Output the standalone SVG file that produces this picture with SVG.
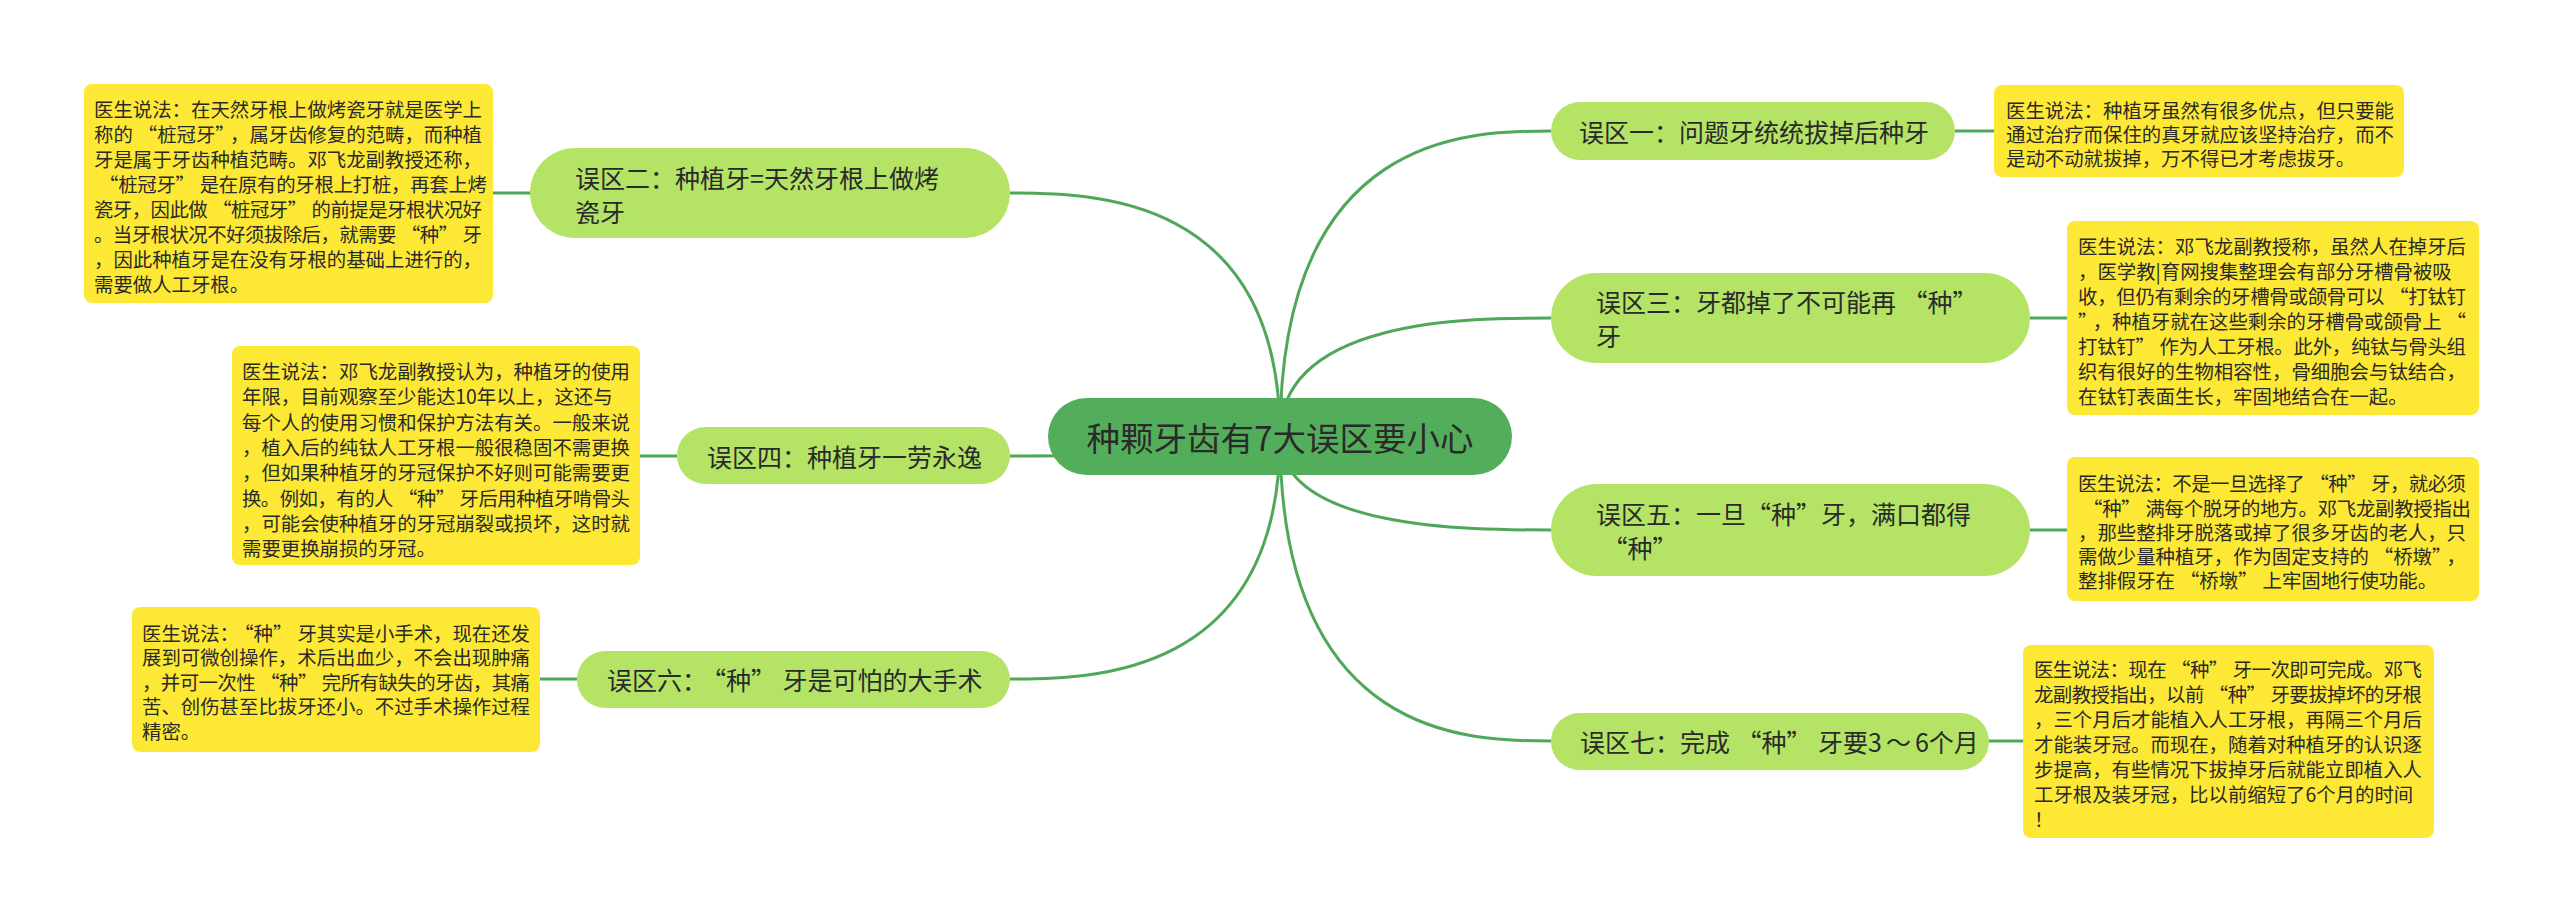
<svg xmlns="http://www.w3.org/2000/svg" width="2560" height="923" viewBox="0 0 2560 923">
<style>
.bg{fill:#ffffff}
.conn path,.conn line{fill:none;stroke:#4fa85a;stroke-width:3}
.root rect{fill:#53ae5b}
.branch rect{fill:#b4e366}
.note rect{fill:#fde935}
text{font-family:"Noto Sans CJK SC","Noto Sans",sans-serif;fill:#2a2a2a;dominant-baseline:central}
.t-root{font-size:33.5px;text-anchor:middle}
.t-branch{font-size:25px}
.t-note{font-size:19.4px}
.t-branch .r{letter-spacing:6.5px}
.t-note .r{letter-spacing:5px}
</style>
<rect class="bg" x="0" y="0" width="2560" height="923"/>
<g id="connectors" class="conn">
<path d="M1280 436 C1280 131,1470 131,1551 131"/>
<path d="M1280 436 C1280 318,1470 318,1551 318"/>
<path d="M1280 436 C1280 530,1470 530,1551 530"/>
<path d="M1280 436 C1280 741,1470 741,1551 741"/>
<path d="M1280 436 C1280 193,1090 193,1010 193"/>
<path d="M1280 436 C1280 456,1090 456,1010 456"/>
<path d="M1280 436 C1280 679,1090 679,1010 679"/>
<line x1="1955" y1="131" x2="1994" y2="131"/>
<line x1="2030" y1="318" x2="2067" y2="318"/>
<line x1="2030" y1="530" x2="2067" y2="530"/>
<line x1="1989" y1="741" x2="2023" y2="741"/>
<line x1="530" y1="193" x2="493" y2="193"/>
<line x1="677" y1="456" x2="640" y2="456"/>
<line x1="577" y1="679" x2="540" y2="679"/>
</g>
<g id="root" class="root">
<rect x="1048" y="398" width="464" height="77" rx="38.5"/>
<text class="t-root" x="1280" y="436">种颗牙齿有7大误区要小心</text>
</g>
<g id="b1" class="branch">
<rect x="1551" y="102" width="404" height="58" rx="29"/>
<text class="t-branch" x="1579" y="131">误区一：问题牙统统拔掉后种牙</text>
</g>
<g id="b2" class="branch">
<rect x="530" y="148" width="480" height="90" rx="45"/>
<text class="t-branch" x="575" y="177">误区二：种植牙=天然牙根上做烤</text>
<text class="t-branch" x="575" y="211">瓷牙</text>
</g>
<g id="b3" class="branch">
<rect x="1551" y="273" width="479" height="90" rx="45"/>
<text class="t-branch" x="1596" y="301">误区三：牙都掉了不可能再<tspan dx="6.5">“</tspan>种<tspan class="r">”</tspan></text>
<text class="t-branch" x="1596" y="335">牙</text>
</g>
<g id="b4" class="branch">
<rect x="677" y="427" width="333" height="57" rx="28.5"/>
<text class="t-branch" x="707" y="456">误区四：种植牙一劳永逸</text>
</g>
<g id="b5" class="branch">
<rect x="1551" y="484" width="479" height="92" rx="46"/>
<text class="t-branch" x="1596" y="513">误区五：一旦“种”牙，满口都得</text>
<text class="t-branch" x="1596" y="547"><tspan dx="6.5">“</tspan>种<tspan class="r">”</tspan></text>
</g>
<g id="b6" class="branch">
<rect x="577" y="651" width="433" height="57" rx="28.5"/>
<text class="t-branch" x="607" y="679">误区六：<tspan dx="6.5">“</tspan>种<tspan class="r">”</tspan>牙是可怕的大手术</text>
</g>
<g id="b7" class="branch">
<rect x="1551" y="713" width="438" height="57" rx="28.5"/>
<text class="t-branch" x="1580" y="741">误区七：完成<tspan dx="6.5">“</tspan>种<tspan class="r">”</tspan>牙要3<tspan dx="4">～</tspan><tspan dx="4">6</tspan>个月</text>
</g>
<g id="n1" class="note">
<rect x="1994" y="85" width="410" height="92" rx="8"/>
<text class="t-note" x="2006" y="109" textLength="388" lengthAdjust="spacing">医生说法：种植牙虽然有很多优点，但只要能</text>
<text class="t-note" x="2006" y="133" textLength="388" lengthAdjust="spacing">通过治疗而保住的真牙就应该坚持治疗，而不</text>
<text class="t-note" x="2006" y="157">是动不动就拔掉，万不得已才考虑拔牙。</text>
</g>
<g id="n2" class="note">
<rect x="84" y="84" width="409" height="219" rx="8"/>
<text class="t-note" x="94" y="108" textLength="388" lengthAdjust="spacing">医生说法：在天然牙根上做烤瓷牙就是医学上</text>
<text class="t-note" x="94" y="133" textLength="388" lengthAdjust="spacing">称的<tspan dx="5">“</tspan>桩冠牙<tspan class="r">”</tspan>，属牙齿修复的范畴，而种植</text>
<text class="t-note" x="94" y="158" textLength="388" lengthAdjust="spacing">牙是属于牙齿种植范畴。邓飞龙副教授还称，</text>
<text class="t-note" x="94" y="183" textLength="388" lengthAdjust="spacing"><tspan dx="5">“</tspan>桩冠牙<tspan class="r">”</tspan>是在原有的牙根上打桩，再套上烤</text>
<text class="t-note" x="94" y="208" textLength="388" lengthAdjust="spacing">瓷牙，因此做<tspan dx="5">“</tspan>桩冠牙<tspan class="r">”</tspan>的前提是牙根状况好</text>
<text class="t-note" x="94" y="233" textLength="388" lengthAdjust="spacing">。当牙根状况不好须拔除后，就需要<tspan dx="5">“</tspan>种<tspan class="r">”</tspan>牙</text>
<text class="t-note" x="94" y="258" textLength="388" lengthAdjust="spacing">，因此种植牙是在没有牙根的基础上进行的，</text>
<text class="t-note" x="94" y="283">需要做人工牙根。</text>
</g>
<g id="n3" class="note">
<rect x="2067" y="221" width="412" height="194" rx="8"/>
<text class="t-note" x="2078" y="245" textLength="388" lengthAdjust="spacing">医生说法：邓飞龙副教授称，虽然人在掉牙后</text>
<text class="t-note" x="2078" y="270">，医学教|育网搜集整理会有部分牙槽骨被吸</text>
<text class="t-note" x="2078" y="295" textLength="388" lengthAdjust="spacing">收，但仍有剩余的牙槽骨或颌骨可以<tspan dx="5">“</tspan>打钛钉</text>
<text class="t-note" x="2078" y="320" textLength="388" lengthAdjust="spacing"><tspan class="r">”</tspan>，种植牙就在这些剩余的牙槽骨或颌骨上<tspan dx="5">“</tspan></text>
<text class="t-note" x="2078" y="345" textLength="388" lengthAdjust="spacing">打钛钉<tspan class="r">”</tspan>作为人工牙根。此外，纯钛与骨头组</text>
<text class="t-note" x="2078" y="370" textLength="388" lengthAdjust="spacing">织有很好的生物相容性，骨细胞会与钛结合，</text>
<text class="t-note" x="2078" y="395">在钛钉表面生长，牢固地结合在一起。</text>
</g>
<g id="n4" class="note">
<rect x="232" y="346" width="408" height="219" rx="8"/>
<text class="t-note" x="242" y="370" textLength="388" lengthAdjust="spacing">医生说法：邓飞龙副教授认为，种植牙的使用</text>
<text class="t-note" x="242" y="395">年限，目前观察至少能达10年以上，这还与</text>
<text class="t-note" x="242" y="421" textLength="388" lengthAdjust="spacing">每个人的使用习惯和保护方法有关。一般来说</text>
<text class="t-note" x="242" y="446" textLength="388" lengthAdjust="spacing">，植入后的纯钛人工牙根一般很稳固不需更换</text>
<text class="t-note" x="242" y="471" textLength="388" lengthAdjust="spacing">，但如果种植牙的牙冠保护不好则可能需要更</text>
<text class="t-note" x="242" y="497" textLength="388" lengthAdjust="spacing">换。例如，有的人<tspan dx="5">“</tspan>种<tspan class="r">”</tspan>牙后用种植牙啃骨头</text>
<text class="t-note" x="242" y="522" textLength="388" lengthAdjust="spacing">，可能会使种植牙的牙冠崩裂或损坏，这时就</text>
<text class="t-note" x="242" y="547">需要更换崩损的牙冠。</text>
</g>
<g id="n5" class="note">
<rect x="2067" y="457" width="412" height="144" rx="8"/>
<text class="t-note" x="2078" y="482" textLength="388" lengthAdjust="spacing">医生说法：不是一旦选择了<tspan dx="5">“</tspan>种<tspan class="r">”</tspan>牙，就必须</text>
<text class="t-note" x="2078" y="507" textLength="388" lengthAdjust="spacing"><tspan dx="5">“</tspan>种<tspan class="r">”</tspan>满每个脱牙的地方。邓飞龙副教授指出</text>
<text class="t-note" x="2078" y="531" textLength="388" lengthAdjust="spacing">，那些整排牙脱落或掉了很多牙齿的老人，只</text>
<text class="t-note" x="2078" y="555" textLength="388" lengthAdjust="spacing">需做少量种植牙，作为固定支持的<tspan dx="5">“</tspan>桥墩<tspan class="r">”</tspan>，</text>
<text class="t-note" x="2078" y="579">整排假牙在<tspan dx="5">“</tspan>桥墩<tspan class="r">”</tspan>上牢固地行使功能。</text>
</g>
<g id="n6" class="note">
<rect x="132" y="607" width="408" height="145" rx="8"/>
<text class="t-note" x="142" y="632" textLength="388" lengthAdjust="spacing">医生说法：<tspan dx="5">“</tspan>种<tspan class="r">”</tspan>牙其实是小手术，现在还发</text>
<text class="t-note" x="142" y="656" textLength="388" lengthAdjust="spacing">展到可微创操作，术后出血少，不会出现肿痛</text>
<text class="t-note" x="142" y="681" textLength="388" lengthAdjust="spacing">，并可一次性<tspan dx="5">“</tspan>种<tspan class="r">”</tspan>完所有缺失的牙齿，其痛</text>
<text class="t-note" x="142" y="705" textLength="388" lengthAdjust="spacing">苦、创伤甚至比拔牙还小。不过手术操作过程</text>
<text class="t-note" x="142" y="730">精密。</text>
</g>
<g id="n7" class="note">
<rect x="2023" y="645" width="411" height="193" rx="8"/>
<text class="t-note" x="2034" y="668" textLength="388" lengthAdjust="spacing">医生说法：现在<tspan dx="5">“</tspan>种<tspan class="r">”</tspan>牙一次即可完成。邓飞</text>
<text class="t-note" x="2034" y="693" textLength="388" lengthAdjust="spacing">龙副教授指出，以前<tspan dx="5">“</tspan>种<tspan class="r">”</tspan>牙要拔掉坏的牙根</text>
<text class="t-note" x="2034" y="718" textLength="388" lengthAdjust="spacing">，三个月后才能植入人工牙根，再隔三个月后</text>
<text class="t-note" x="2034" y="743" textLength="388" lengthAdjust="spacing">才能装牙冠。而现在，随着对种植牙的认识逐</text>
<text class="t-note" x="2034" y="768" textLength="388" lengthAdjust="spacing">步提高，有些情况下拔掉牙后就能立即植入人</text>
<text class="t-note" x="2034" y="793">工牙根及装牙冠，比以前缩短了6个月的时间</text>
<text class="t-note" x="2034" y="818">！</text>
</g>
</svg>
